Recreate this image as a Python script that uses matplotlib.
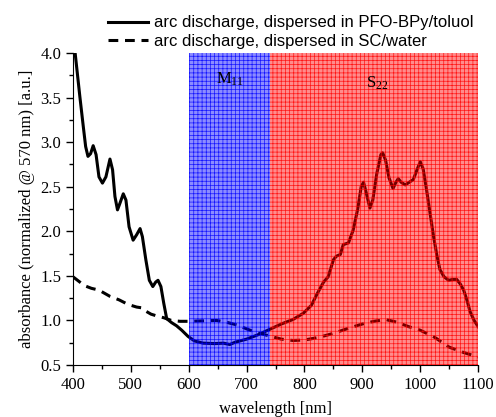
import matplotlib
matplotlib.use("Agg")
import matplotlib.pyplot as plt
from matplotlib.patches import Rectangle
from matplotlib.ticker import MultipleLocator

plt.rcParams['font.family'] = 'Liberation Serif'
plt.rcParams['mathtext.fontset'] = 'custom'
plt.rcParams['mathtext.rm'] = 'Liberation Serif'
plt.rcParams['mathtext.it'] = 'Liberation Serif'
plt.rcParams['hatch.linewidth'] = 0.5

# PFO-BPy / toluol spectrum
wl_pfo = [403, 412, 418, 422, 426, 430.5, 435, 440, 445, 451, 457, 464, 468.5, 472.6, 477,
          481, 487, 491.6, 497, 504, 510, 516, 520, 526, 532, 538, 543, 547, 552, 557, 562,
          570.5, 579, 588, 599, 610, 625, 645, 660, 671, 680, 700, 720, 740, 760, 780, 798,
          812, 822, 833, 841, 850, 855, 862, 867, 876, 884, 892, 898, 902, 906, 913, 918,
          925, 932, 935, 940, 946, 953, 958, 962, 967, 974, 981, 988, 995, 1000, 1005, 1011,
          1017, 1023, 1029, 1034, 1041, 1049, 1056, 1063, 1069, 1075, 1081, 1086, 1093, 1100]
abs_pfo = [4.05, 3.51, 3.17, 2.95, 2.84, 2.87, 2.96, 2.86, 2.61, 2.54, 2.61, 2.81, 2.69, 2.39, 2.24,
           2.31, 2.42, 2.35, 2.05, 1.90, 1.96, 2.03, 1.94, 1.68, 1.45, 1.38, 1.43, 1.45, 1.38, 1.19, 1.02,
           0.975, 0.94, 0.89, 0.82, 0.77, 0.745, 0.74, 0.745, 0.73, 0.755, 0.79, 0.84, 0.90, 0.96, 1.01, 1.08,
           1.17, 1.30, 1.43, 1.49, 1.68, 1.72, 1.74, 1.85, 1.87, 2.01, 2.25, 2.50, 2.55, 2.45, 2.26, 2.35,
           2.65, 2.86, 2.88, 2.80, 2.60, 2.48, 2.55, 2.59, 2.55, 2.52, 2.55, 2.58, 2.70, 2.78, 2.70, 2.46,
           2.20, 1.94, 1.72, 1.57, 1.49, 1.45, 1.46, 1.46, 1.41, 1.34, 1.22, 1.10, 1.00, 0.93]

# SC / water spectrum
wl_sc = [400, 410, 420, 432, 445, 464, 480, 495, 510, 520, 527, 535, 545, 557, 570, 585, 600,
         625, 648, 665, 683, 706, 720, 740, 760, 780, 800, 825, 850, 875, 900, 920, 940, 960,
         980, 1000, 1025, 1050, 1075, 1100]
abs_sc = [1.49, 1.44, 1.39, 1.36, 1.34, 1.27, 1.23, 1.18, 1.15, 1.14, 1.10, 1.07, 1.05, 1.03, 1.00, 0.99, 0.99,
          0.995, 1.00, 0.98, 0.95, 0.89, 0.86, 0.825, 0.79, 0.775, 0.78, 0.81, 0.855, 0.91, 0.96, 0.99, 1.01, 0.98,
          0.93, 0.89, 0.81, 0.70, 0.64, 0.59]

# transition bands
m11_range = (600, 740)
s22_range = (740, 1100)

fig = plt.figure(figsize=(4.96, 4.17), dpi=100)
ax = fig.add_axes([0.147, 0.1247, 0.817, 0.7483])

ax.plot(wl_pfo, abs_pfo, color='black', lw=2.2, solid_joinstyle='round',
        label='arc discharge, dispersed in PFO-BPy/toluol')
ax.plot(wl_sc, abs_sc, color='black', lw=2.2, ls=(0, (3.2, 2.2)),
        label='arc discharge, dispersed in SC/water')

# shaded bands drawn on top of the spectra
ax.add_patch(Rectangle((m11_range[0], 0.5), m11_range[1] - m11_range[0], 3.5,
                       facecolor=(0, 0, 1, 0.45), edgecolor=(0, 0, 1, 0.85), lw=0,
                       hatch='++++', zorder=3))
ax.add_patch(Rectangle((s22_range[0], 0.5), s22_range[1] - s22_range[0], 3.5,
                       facecolor=(1, 0, 0, 0.45), edgecolor=(1, 0, 0, 0.85), lw=0,
                       hatch='++++', zorder=3))

ax.text(671, 3.70, r'M$_{11}$', fontsize=12, ha='center', va='center', zorder=4)
ax.text(925, 3.66, r'S$_{22}$', fontsize=12, ha='center', va='center', zorder=4)

ax.set_xlim(400, 1100)
ax.set_ylim(0.5, 4.0)
ax.xaxis.set_major_locator(MultipleLocator(100))
ax.xaxis.set_minor_locator(MultipleLocator(50))
ax.yaxis.set_major_locator(MultipleLocator(0.5))
ax.yaxis.set_minor_locator(MultipleLocator(0.25))
ax.yaxis.set_major_formatter(plt.FormatStrFormatter('%.1f'))
ax.tick_params(which='major', length=5, width=1, labelsize=12, direction='out')
ax.tick_params(which='minor', length=3, width=1, direction='out')
ax.spines['top'].set_visible(False)
ax.spines['right'].set_visible(False)

ax.set_xlabel('wavelength [nm]', fontsize=12, labelpad=6)
ax.set_ylabel('absorbance (normalized @ 570 nm) [a.u.]', fontsize=12, labelpad=4)

fig.legend(loc='upper left', bbox_to_anchor=(0.19, 0.995), frameon=False,
           prop={'family': 'Liberation Sans', 'size': 12}, handlelength=2.4,
           handletextpad=0.4, labelspacing=0.2, borderpad=0.3)

fig.savefig('out.png', dpi=100)
